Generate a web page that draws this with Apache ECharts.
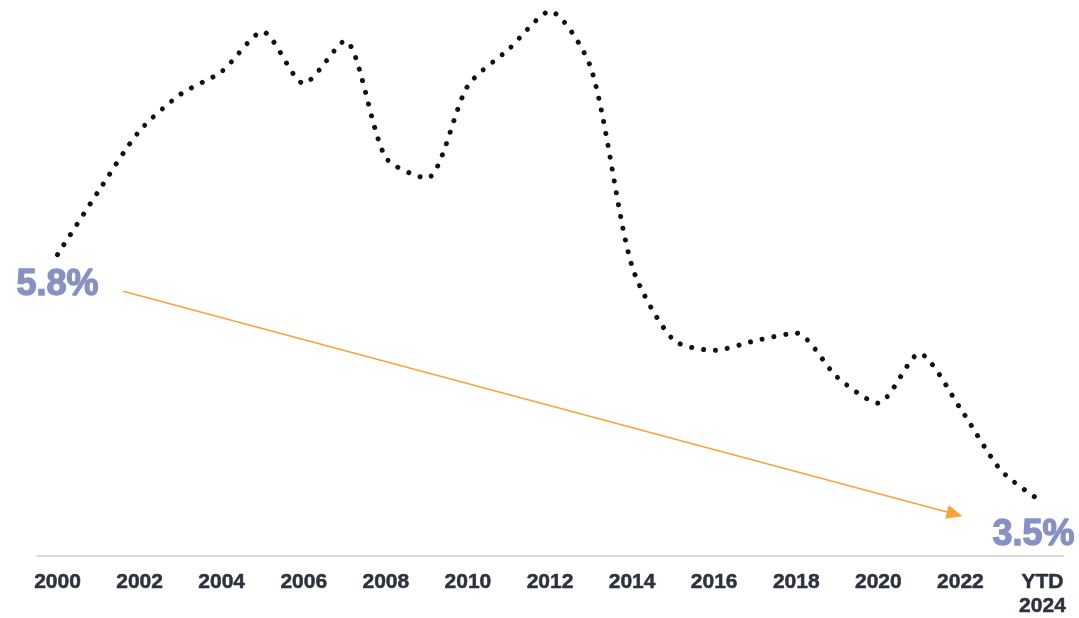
<!DOCTYPE html>
<html>
<head>
<meta charset="utf-8">
<script src="https://cdn.jsdelivr.net/npm/echarts@6/dist/echarts.min.js"></script>
<style>
  html, body { margin: 0; padding: 0; background: #ffffff; }
  #chart { width: 1079px; height: 618px; }
</style>
</head>
<body>
<div id="chart"></div>
<script>
// Annual rate, 2000 through year-to-date 2024
const years = ['2000', '2001', '2002', '2003', '2004', '2005', '2006', '2007', '2008', '2009',
  '2010', '2011', '2012', '2013', '2014', '2015', '2016', '2017', '2018', '2019',
  '2020', '2021', '2022', '2023', 'YTD\n2024'];
const rates = [5.80, 6.39, 6.95, 7.29, 7.50, 7.87, 7.39, 7.785, 6.70, 6.51,
  7.37, 7.71, 8.06, 7.53, 5.69, 5.01, 4.91, 5.00, 5.07, 4.66,
  4.42, 4.88, 4.37, 3.79, 3.50];

// Trend arrow, in (category index, rate) units
const trendFrom = [1.6, 5.46];
const trendTo = [22.05, 3.37];

const FONT = "'Liberation Sans', Arial, sans-serif";
const LABEL_COLOR = '#8892c2';
const ARROW_COLOR = '#f6a53a';

const lastIdx = rates.length - 1;
const seriesData = rates.map((v, i) => {
  if (i === 0 || i === lastIdx) {
    return {
      value: v,
      label: {
        show: true,
        position: 'bottom',
        distance: i === lastIdx ? 15 : 12,
        offset: i === lastIdx ? [-9, 0] : [0, 0],
        formatter: (p) => p.value.toFixed(1) + '%',
        fontFamily: FONT,
        fontSize: 36,
        fontWeight: 'bold',
        color: LABEL_COLOR,
        textBorderColor: LABEL_COLOR,
        textBorderWidth: 1.4
      }
    };
  }
  return v;
});

const chart = echarts.init(document.getElementById('chart'), null, { renderer: 'canvas' });

chart.setOption({
  animation: false,
  backgroundColor: '#ffffff',
  grid: { left: 37, right: 16, top: 7, bottom: 59 },
  xAxis: {
    type: 'category',
    data: years,
    boundaryGap: true,
    axisLine: { show: true, lineStyle: { color: '#d9d9d9', width: 2 } },
    axisTick: { show: false },
    splitLine: { show: false },
    axisLabel: {
      interval: 1,
      margin: 14,
      fontFamily: FONT,
      fontSize: 21,
      fontWeight: 'bold',
      lineHeight: 24,
      color: '#2d323e',
      textBorderColor: '#2d323e',
      textBorderWidth: 0.5
    }
  },
  yAxis: {
    type: 'value',
    min: 3,
    max: 8.1,
    show: false,
    splitLine: { show: false }
  },
  series: [{
    type: 'line',
    data: seriesData,
    smooth: 0.25,
    showSymbol: true,
    showAllSymbol: true,
    symbol: 'circle',
    symbolSize: 0,
    itemStyle: { color: '#111111' },
    lineStyle: {
      color: '#111111',
      width: 5,
      type: [0.01, 12],
      cap: 'round'
    },
    emphasis: { disabled: true }
  }]
});

// Pixel position for a fractional category index and a rate value
function toPixel(pt) {
  const i0 = Math.floor(pt[0]);
  const i1 = Math.min(i0 + 1, lastIdx);
  const a = chart.convertToPixel({ gridIndex: 0 }, [i0, pt[1]]);
  const b = chart.convertToPixel({ gridIndex: 0 }, [i1, pt[1]]);
  const t = pt[0] - i0;
  return [a[0] + (b[0] - a[0]) * t, a[1]];
}

const p0 = toPixel(trendFrom);
const p1 = toPixel(trendTo);
const dx = p1[0] - p0[0];
const dy = p1[1] - p0[1];
const len = Math.sqrt(dx * dx + dy * dy);
const ux = dx / len, uy = dy / len;
const headLen = 16, headHalf = 7;
const base = [p1[0] - ux * headLen, p1[1] - uy * headLen];

chart.setOption({
  graphic: [
    {
      type: 'line',
      silent: true,
      shape: { x1: p0[0], y1: p0[1], x2: base[0], y2: base[1] },
      style: { stroke: ARROW_COLOR, lineWidth: 1.5 }
    },
    {
      type: 'polygon',
      silent: true,
      shape: {
        points: [
          [p1[0], p1[1]],
          [base[0] - uy * headHalf, base[1] + ux * headHalf],
          [base[0] + uy * headHalf, base[1] - ux * headHalf]
        ]
      },
      style: { fill: ARROW_COLOR }
    }
  ]
});
</script>
</body>
</html>
